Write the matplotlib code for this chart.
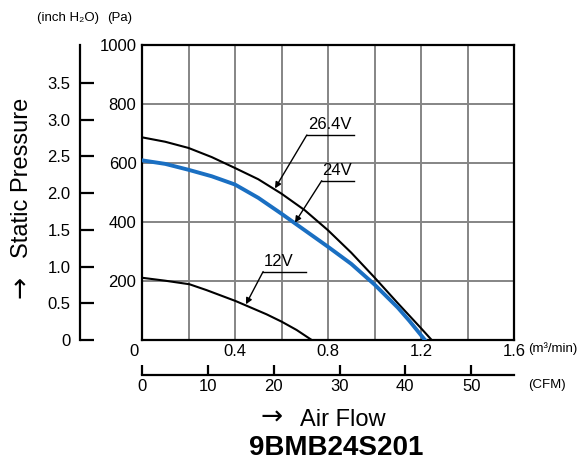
import matplotlib
matplotlib.use("Agg")
import matplotlib.pyplot as plt
from matplotlib.transforms import ScaledTranslation

plt.rcParams['font.family'] = ['Liberation Sans', 'DejaVu Sans']

# P-Q curves (m3/min, Pa)
flow_264 = [0.0, 0.1, 0.2, 0.3, 0.4, 0.5, 0.6, 0.7, 0.8, 0.9, 1.0, 1.1, 1.2, 1.246]
pres_264 = [687, 672, 651, 620, 583, 545, 496, 440, 372, 296, 212, 125, 40, 0]

flow_24 = [0.0, 0.1, 0.2, 0.3, 0.4, 0.5, 0.6, 0.7, 0.8, 0.9, 1.0, 1.1, 1.15, 1.217]
pres_24 = [609, 597, 577, 555, 527, 482, 428, 372, 316, 258, 188, 110, 65, 0]

flow_12 = [0.0, 0.1, 0.204, 0.278, 0.403, 0.536, 0.601, 0.665, 0.730]
pres_12 = [211, 201, 189, 169, 132, 87, 62, 34, 0]

x_ticks = [0, 0.4, 0.8, 1.2, 1.6]
x_labels = ['0', '0.4', '0.8', '1.2', '1.6']
y_ticks = [200, 400, 600, 800, 1000]
inch_ticks = [0, 0.5, 1.0, 1.5, 2.0, 2.5, 3.0, 3.5]
inch_labels = ['0', '0.5', '1.0', '1.5', '2.0', '2.5', '3.0', '3.5']
cfm_ticks = [0, 10, 20, 30, 40, 50]

PA_PER_INCH = 249.09
CFM_PER_M3 = 35.3147

fig = plt.figure(figsize=(5.88, 4.67), dpi=100)
ax = fig.add_axes([142 / 588, 1 - 340 / 467, 372 / 588, 295 / 467])

# grid
for gx in [0.2 * i for i in range(1, 8)]:
    ax.axvline(gx, color='#858585', linewidth=1.4, zorder=1)
for gy in [200, 400, 600, 800]:
    ax.axhline(gy, color='#858585', linewidth=1.4, zorder=1)

ax.plot(flow_264, pres_264, color='black', linewidth=1.5, zorder=3)
ax.plot(flow_24, pres_24, color='#1a6fc2', linewidth=2.8, zorder=4)
ax.plot(flow_12, pres_12, color='black', linewidth=1.5, zorder=3)

ax.set_xlim(0, 1.6)
ax.set_ylim(0, 1000)
ax.set_xticks(x_ticks)
ax.set_xticklabels(x_labels)
ax.set_yticks(y_ticks)
ax.tick_params(length=0, labelsize=12)
ax.tick_params(axis='y', pad=4)
ax.tick_params(axis='x', pad=3)
# the "0" under the corner sits a little to the left
zero_lbl = ax.get_xticklabels()[0]
zero_lbl.set_transform(zero_lbl.get_transform() +
                       ScaledTranslation(-8 / 100, 0, fig.dpi_scale_trans))
for s in ax.spines.values():
    s.set_linewidth(1.6)

# curve labels with leader lines
labels = [
    ('26.4V', 0.809, 729, (0.709, 0.910), 695, (0.572, 514)),
    ('24V', 0.840, 576, (0.773, 0.910), 540, (0.658, 398)),
    ('12V', 0.586, 265, (0.521, 0.704), 232, (0.447, 121)),
]
for txt, tx, ty, (u0, u1), uy, tip in labels:
    ax.text(tx, ty, txt, ha='center', va='center', fontsize=12, zorder=5)
    ax.plot([u0, u1], [uy, uy], color='black', linewidth=1.0, zorder=5)
    ax.annotate('', xy=tip, xytext=(u0, uy),
                arrowprops=dict(arrowstyle='-|>', color='black', lw=1.0,
                                mutation_scale=9, shrinkA=0, shrinkB=0),
                zorder=5)

# inch H2O axis
sec_y = ax.secondary_yaxis(-62 / 372, functions=(lambda p: p / PA_PER_INCH,
                                                  lambda h: h * PA_PER_INCH))
sec_y.set_yticks(inch_ticks)
sec_y.set_yticklabels(inch_labels)
sec_y.tick_params(direction='in', length=10, width=1.6, labelsize=12, pad=7)
sec_y.spines['left'].set_linewidth(1.6)

# CFM axis
sec_x = ax.secondary_xaxis(-35 / 295, functions=(lambda q: q * CFM_PER_M3,
                                                  lambda c: c / CFM_PER_M3))
sec_x.set_xticks(cfm_ticks)
sec_x.tick_params(direction='in', length=7, width=1.6, labelsize=12, pad=3)
sec_x.spines['bottom'].set_linewidth(1.6)

# unit labels
fig.text(37 / 588, 1 - 18 / 467, '(inch H\u2082O)', fontsize=9.5, va='center', ha='left')
fig.text(107 / 588, 1 - 18 / 467, '(Pa)', fontsize=9.5, va='center', ha='left')
fig.text(528 / 588, 1 - 349 / 467, '(m\u00b3/min)', fontsize=9.5, va='center', ha='left')
fig.text(528 / 588, 1 - 385 / 467, '(CFM)', fontsize=9.5, va='center', ha='left')

# axis titles, arrows drawn separately so they get the wide DejaVu glyph
fig.text(21 / 588, 1 - 287 / 467, '\u2192', rotation=90, fontsize=19,
         family='DejaVu Sans', va='center', ha='center')
fig.text(22 / 588, 1 - 178 / 467, 'Static Pressure', rotation=90,
         fontsize=17, va='center', ha='center')
fig.text(272 / 588, 1 - 418 / 467, '\u2192', fontsize=19,
         family='DejaVu Sans', va='center', ha='center')
fig.text(300 / 588, 1 - 426 / 467, 'Air Flow', fontsize=17,
         va='baseline', ha='left')
fig.text(336 / 588, 1 - 455 / 467, '9BMB24S201', fontsize=20, fontweight='bold',
         va='baseline', ha='center')

fig.savefig('out.png', dpi=100)
